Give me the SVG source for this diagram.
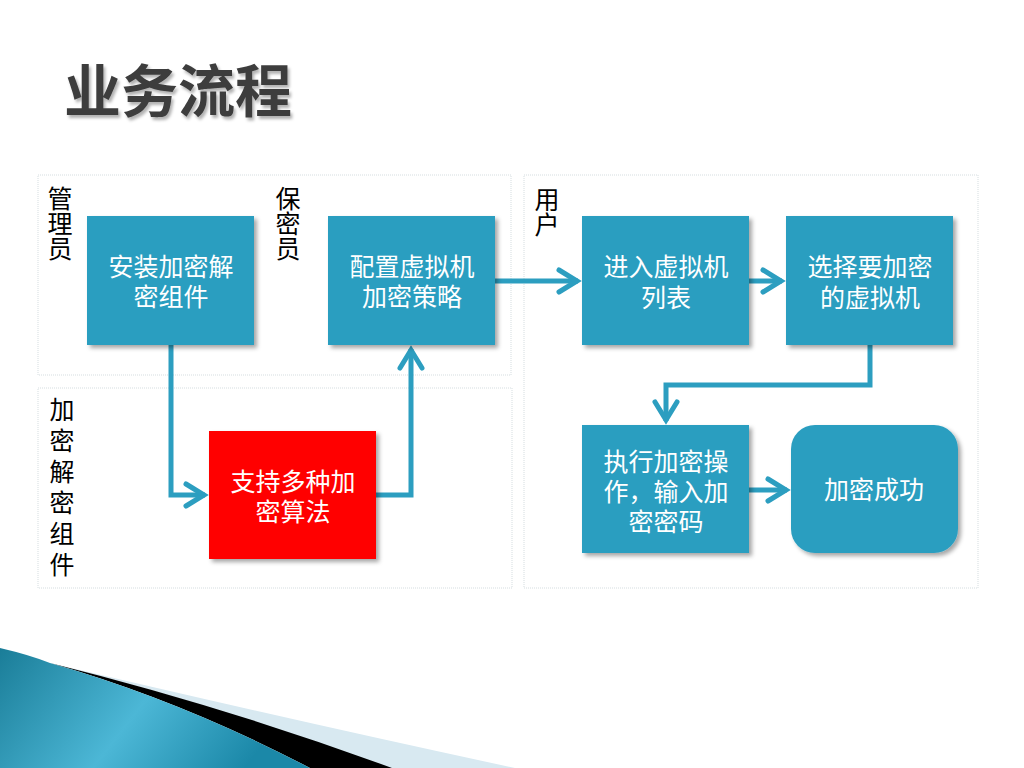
<svg xmlns="http://www.w3.org/2000/svg" width="1024" height="768" viewBox="0 0 1024 768">
<defs>
<style>
.lane{fill:#ffffff;stroke:#d5dde0;stroke-width:1;stroke-dasharray:1 1}
.box{fill:#2c9ec0;filter:url(#sh)}
.red{fill:#ff0000;filter:url(#sh)}
.bt{font-family:"Noto Sans CJK SC","Microsoft YaHei",sans-serif;font-size:25px;fill:#ffffff;text-anchor:middle}
.lt{font-family:"Noto Sans CJK SC",sans-serif;font-size:25px;fill:#000000;writing-mode:vertical-rl;text-anchor:start}
.con{fill:none;stroke:#2c9ec0;stroke-width:5;stroke-linejoin:miter}
.title{font-family:"Noto Sans CJK SC",sans-serif;font-size:57px;font-weight:bold;fill:#3c3c3c;filter:url(#tsh)}
</style>
<filter id="sh" x="-10%" y="-10%" width="125%" height="125%">
<feDropShadow dx="3" dy="3" stdDeviation="2" flood-color="#000" flood-opacity="0.35"/>
</filter>
<filter id="tsh" x="-10%" y="-20%" width="120%" height="150%">
<feDropShadow dx="2" dy="3" stdDeviation="1.5" flood-color="#000" flood-opacity="0.3"/>
</filter>
<marker id="arr" markerUnits="userSpaceOnUse" viewBox="-26 -16 34 32" refX="0" refY="0" markerWidth="34" markerHeight="32" orient="auto">
<path d="M-19,-11 L-1,0 L-19,11" fill="none" stroke="#2c9ec0" stroke-width="5" stroke-linecap="round"/>
</marker>
<linearGradient id="teal" x1="0" y1="0" x2="1" y2="0.3">
<stop offset="0" stop-color="#1a7d98"/>
<stop offset="0.55" stop-color="#4cb7d6"/>
<stop offset="1" stop-color="#1b88a8"/>
</linearGradient>
</defs>
<rect width="1024" height="768" fill="#ffffff"/>

<text class="title" x="64" y="112">业务流程</text>

<g id="lanes">
<rect class="lane" x="38" y="175" width="473" height="200"/>
<rect class="lane" x="38" y="388" width="474" height="200"/>
<rect class="lane" x="524" y="175" width="454" height="413"/>
<text class="lt" x="60" y="186">管理员</text>
<text class="lt" x="288" y="186">保密员</text>
<text class="lt" x="547" y="187">用户</text>
<text class="lt" x="62" y="397" letter-spacing="6">加密解密组件</text>
</g>

<g id="connectors">
<path class="con" d="M171,345 V495 H205" marker-end="url(#arr)"/>
<path class="con" d="M376,495 H411 V349" marker-end="url(#arr)"/>
<path class="con" d="M495,281 H578" marker-end="url(#arr)"/>
<path class="con" d="M749,281 H782" marker-end="url(#arr)"/>
<path class="con" d="M870,345 V385 H666 V421" marker-end="url(#arr)"/>
<path class="con" d="M749,490 H787" marker-end="url(#arr)"/>
</g>

<g id="n1"><rect class="box" x="87" y="216" width="167" height="129"/>
<text class="bt"><tspan x="171" y="276">安装加密解</tspan><tspan x="171" y="306">密组件</tspan></text></g>
<g id="n2"><rect class="box" x="328" y="216" width="167" height="129"/>
<text class="bt"><tspan x="412" y="276">配置虚拟机</tspan><tspan x="412" y="306">加密策略</tspan></text></g>
<g id="n3"><rect class="box" x="582" y="216" width="167" height="129"/>
<text class="bt"><tspan x="666" y="276">进入虚拟机</tspan><tspan x="666" y="307">列表</tspan></text></g>
<g id="n4"><rect class="box" x="786" y="216" width="167" height="129"/>
<text class="bt"><tspan x="870" y="276">选择要加密</tspan><tspan x="870" y="307">的虚拟机</tspan></text></g>
<g id="n5"><rect class="red" x="209" y="431" width="167" height="128"/>
<text class="bt"><tspan x="293" y="491">支持多种加</tspan><tspan x="293" y="521">密算法</tspan></text></g>
<g id="n6"><rect class="box" x="582" y="425" width="167" height="128"/>
<text class="bt"><tspan x="666" y="471">执行加密操</tspan><tspan x="666" y="501">作，输入加</tspan><tspan x="666" y="531">密密码</tspan></text></g>
<g id="n7"><rect class="box" x="791" y="425" width="167" height="128" rx="24" ry="24"/>
<text class="bt" x="874" y="499">加密成功</text></g>

<g id="swoosh">
<path d="M50,663 Q300,722 515,768 L380,768 Q220,705 50,663 Z" fill="#d8e9f1"/>
<path d="M50,663 Q220,705 392,768 L310,768 Q180,700 50,663 Z" fill="#000000"/>
<path d="M0,648 Q30,655 50,663 Q180,700 310,768 L0,768 Z" fill="url(#teal)"/>
</g>
</svg>
